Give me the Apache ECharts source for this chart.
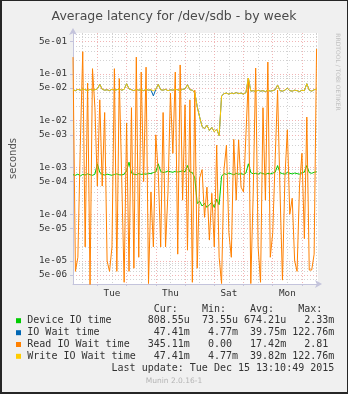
<!DOCTYPE html>
<html>
<head>
<meta charset="utf-8">
<script src="https://cdn.jsdelivr.net/npm/echarts@6/dist/echarts.min.js"></script>
<style>
  html, body { margin: 0; padding: 0; background: #F0F0F0; }
  #chart { width: 348px; height: 394px; }
</style>
</head>
<body>
<div id="chart"></div>
<script>
// Time axis is in hours after Mon Dec 7 2015 00:00.
const startHour = 4;          // first 2-hour sample
const stepHours = 2;
const endHour = 205.18;       // Tue Dec 15 13:10:49
const dayTickHours = [24, 48, 72, 96, 120, 144, 168, 192];
const halfDayTickHours = [12, 36, 60, 84, 108, 132, 156, 180, 204];
const dayLabelHours = [36, 84, 132, 180];
const dayLabels = ['Tue', 'Thu', 'Sat', 'Mon'];

// Latency axis (seconds, log scale)
const yMin = 3.22e-6;
const yMax = 0.753;
const yLabelValues = [5e-6, 1e-5, 5e-5, 1e-4, 5e-4, 1e-3, 5e-3, 1e-2, 5e-2, 1e-1, 5e-1];
const yMinorValues = [
  4e-6, 6e-6, 7e-6, 8e-6, 9e-6,
  2e-5, 3e-5, 4e-5, 6e-5, 7e-5, 8e-5, 9e-5,
  2e-4, 3e-4, 4e-4, 6e-4, 7e-4, 8e-4, 9e-4,
  2e-3, 3e-3, 4e-3, 6e-3, 7e-3, 8e-3, 9e-3,
  2e-2, 3e-2, 4e-2, 6e-2, 7e-2, 8e-2, 9e-2,
  2e-1, 3e-1, 4e-1, 6e-1, 7e-1
];

// Device IO time (s), 2-hour samples
const deviceIO = [
  0.00070, 0.00068, 0.00072, 0.00066, 0.00071, 0.00069, 0.00073, 0.00070, 0.00068, 0.00072,
  0.00120, 0.00078, 0.00071, 0.00069, 0.00072, 0.00070, 0.00068, 0.00071, 0.00073, 0.00070,
  0.00069, 0.00072, 0.00085, 0.00130, 0.00076, 0.00072, 0.00070, 0.00074, 0.00071, 0.00073,
  0.00072, 0.00075, 0.00074, 0.00078, 0.00080, 0.00120, 0.00082, 0.00078, 0.00080, 0.00084,
  0.00081, 0.00079, 0.00083, 0.00080, 0.00082, 0.00085, 0.00081, 0.00110, 0.00080, 0.00078,
  0.00060, 0.00017, 0.00019, 0.00015, 0.00017, 0.00014, 0.00016, 0.00018, 0.00014, 0.00021,
  0.00016, 0.00065, 0.00074, 0.00071, 0.00076, 0.00073, 0.00070, 0.00075, 0.00072, 0.00074,
  0.00071, 0.00076, 0.00120, 0.00078, 0.00073, 0.00075, 0.00072, 0.00077, 0.00074, 0.00071,
  0.00075, 0.00073, 0.00076, 0.00079, 0.00110, 0.00077, 0.00074, 0.00072, 0.00078, 0.00075,
  0.00073, 0.00076, 0.00074, 0.00072, 0.00077, 0.00080, 0.00110, 0.00078, 0.00075, 0.00079,
  0.00081
];

// Write IO Wait time (s)
const writeWait = [
  0.046, 0.044, 0.047, 0.045, 0.048, 0.046, 0.044, 0.047, 0.045, 0.046,
  0.048, 0.060, 0.047, 0.045, 0.046, 0.044, 0.047, 0.045, 0.046, 0.048,
  0.045, 0.047, 0.062, 0.048, 0.046, 0.044, 0.047, 0.045, 0.046, 0.044,
  0.047, 0.045, 0.046, 0.044, 0.047, 0.060, 0.046, 0.045, 0.047, 0.044,
  0.046, 0.045, 0.047, 0.046, 0.044, 0.047, 0.048, 0.059, 0.046, 0.045,
  0.040, 0.020, 0.012, 0.0075, 0.0068, 0.0080, 0.0062, 0.0072, 0.0058, 0.0066,
  0.0048, 0.034, 0.038, 0.039, 0.037, 0.039, 0.038, 0.040, 0.038, 0.039,
  0.037, 0.040, 0.082, 0.043, 0.044, 0.042, 0.045, 0.043, 0.044, 0.042,
  0.045, 0.043, 0.044, 0.046, 0.058, 0.044, 0.043, 0.045, 0.050, 0.044,
  0.043, 0.045, 0.044, 0.042, 0.045, 0.044, 0.062, 0.045, 0.043, 0.046,
  0.0474
];

// IO Wait time (s) — follows the write wait except for one short dip
const ioWait = writeWait.slice();
ioWait[33] = 0.034;

// Read IO Wait time (s)
const readWait = [
  0.23, 6e-6, 1.2e-5, 0.003, 0.30, 2e-5, 0.064, 3e-6, 0.13, 0.019,
  0.0004, 0.028, 0.0004, 0.015, 1e-5, 6e-6, 2e-5, 0.13, 6e-6, 0.08,
  0.0006, 3.5e-6, 0.009, 6e-6, 0.019, 7e-6, 0.23, 1.2e-5, 0.11, 0.0005,
  0.14, 3.3e-6, 0.0003, 2e-5, 0.005, 0.0008, 2e-5, 0.015, 2e-5, 0.0003,
  0.039, 0.002, 0.11, 1.4e-5, 0.156, 0.0002, 0.022, 1.7e-5, 0.028, 3.5e-6,
  0.045, 7e-6, 0.0006, 0.0009, 8.6e-5, 0.00038, 2.8e-5, 0.00028, 2e-5, 0.003,
  1.2e-5, 3.3e-6, 0.0009, 0.003, 4e-5, 1.2e-5, 0.004, 0.0002, 0.0039, 0.00038,
  0.0003, 0.005, 0.082, 3.3e-6, 0.0003, 0.134, 2e-5, 3.5e-6, 0.019, 0.0002,
  0.18, 1.2e-5, 4e-5, 0.0015, 0.045, 0.0003, 3.9e-6, 0.0006, 0.0064, 0.0001,
  0.00022, 1e-5, 6e-6, 0.0004, 0.002, 3e-5, 0.012, 6.4e-6, 6.4e-6, 1.4e-5,
  0.345
];

// Legend table
const legendNames = ['Device IO time', 'IO Wait time', 'Read IO Wait time', 'Write IO Wait time'];
const legendColors = ['#00CC00', '#0066B3', '#FF8000', '#FFCC00'];
const curValues = ['808.55u', '47.41m', '345.11m', '47.41m'];
const minValues = ['73.55u', '4.77m', '0.00 ', '4.77m'];
const avgValues = ['674.21u', '39.75m', '17.42m', '39.82m'];
const maxValues = ['2.33m', '122.76m', '2.81 ', '122.76m'];
const lastUpdate = 'Last update: Tue Dec 15 13:10:49 2015';

function toPairs(values) {
  return values.map((v, i) => [startHour + i * stepHours, v]);
}

function expLabel(v) {
  const e = Math.floor(Math.log10(v) + 1e-9);
  const m = Math.round(v / Math.pow(10, e));
  const sign = e < 0 ? '-' : '+';
  const ae = Math.abs(e);
  return m + 'e' + sign + (ae < 10 ? '0' + ae : String(ae));
}

function padRight(s, n) { while (s.length < n) s += ' '; return s; }
function padLeft(s, n) { while (s.length < n) s = ' ' + s; return s; }

const mono = '"DejaVu Sans Mono", monospace';
const sans = '"DejaVu Sans", sans-serif';
const textColor = '#333';

const graphics = [];
function addText(text, x, y, opts) {
  graphics.push({
    type: 'text', x: x, y: y, silent: true,
    style: Object.assign({
      text: text, font: '10px ' + mono, fill: textColor,
      align: 'left', verticalAlign: 'middle',
      textAlign: 'left', textVerticalAlign: 'middle'
    }, opts || {})
  });
}

const legendX = 27.3;
const rowY = [320.7, 332.7, 344.5, 356.3];
addText(padLeft('Cur:', 25) + padLeft('Min:', 8) + padLeft('Avg:', 8) + padLeft('Max:', 8), legendX, 309);
legendNames.forEach((name, i) => {
  const line = padRight(name, 20) + padLeft(curValues[i], 7) + padLeft(minValues[i], 8) +
               padLeft(avgValues[i], 8) + padLeft(maxValues[i], 8);
  addText(line, legendX, rowY[i]);
  graphics.push({
    type: 'rect', silent: true,
    shape: { x: 16, y: rowY[i] - 2.5, width: 5, height: 5 },
    style: { fill: legendColors[i] }
  });
});
addText(lastUpdate, 334.3, 368.7, { align: 'right', textAlign: 'right' });
addText('Munin 2.0.16-1', 174, 380.7, { font: '7.5px ' + sans, fill: '#b4b4b4', align: 'center', textAlign: 'center' });
graphics.push({
  type: 'text', x: 338, y: 72, rotation: -Math.PI / 2, silent: true,
  style: {
    text: 'RRDTOOL / TOBI OETIKER', font: '6px ' + sans, fill: '#c0c0c0',
    align: 'center', verticalAlign: 'middle', textAlign: 'center', textVerticalAlign: 'middle'
  }
});
// dark frame round the image
const frame = '#262626';
graphics.push(
  { type: 'rect', silent: true, shape: { x: 0, y: 0, width: 348, height: 1 }, style: { fill: frame } },
  { type: 'rect', silent: true, shape: { x: 0, y: 0, width: 2, height: 394 }, style: { fill: frame } },
  { type: 'rect', silent: true, shape: { x: 0, y: 392, width: 348, height: 2 }, style: { fill: frame } },
  { type: 'rect', silent: true, shape: { x: 347, y: 0, width: 1, height: 394 }, style: { fill: frame } }
);

const majorGrid = { show: true, lineStyle: { color: 'rgba(235,150,150,0.7)', type: [1, 2], width: 1 } };
const minorGrid = { show: true, lineStyle: { color: 'rgba(195,195,195,0.75)', type: [1, 2], width: 1 } };
const axisColor = '#c4c4dc';

const chart = echarts.init(document.getElementById('chart'), null, { renderer: 'canvas' });
chart.setOption({
  animation: false,
  backgroundColor: '#F0F0F0',
  title: {
    text: 'Average latency for /dev/sdb - by week',
    left: 'center', top: 5,
    textStyle: { fontFamily: sans, fontSize: 12.5, fontWeight: 'normal', color: '#4a4a4a' }
  },
  grid: { left: 67, top: 33, width: 251, height: 251, backgroundColor: '#FFFFFF', show: true, borderWidth: 0 },
  xAxis: [
    {
      type: 'value', min: startHour, max: endHour,
      axisLine: {
        show: true, lineStyle: { color: axisColor },
        symbol: ['none', 'arrow'], symbolSize: [6, 7], symbolOffset: [0, 4]
      },
      axisTick: { show: true, customValues: dayTickHours, length: 2, lineStyle: { color: axisColor } },
      axisLabel: {
        customValues: dayLabelHours,
        formatter: v => dayLabels[dayLabelHours.indexOf(Math.round(v))] || '',
        fontFamily: mono, fontSize: 9.3, color: textColor, margin: 5
      },
      splitLine: majorGrid
    },
    {
      type: 'value', min: startHour, max: endHour, position: 'top',
      axisLine: { show: false },
      axisTick: { show: false, customValues: halfDayTickHours },
      axisLabel: { show: false },
      splitLine: minorGrid
    }
  ],
  yAxis: [
    {
      type: 'log', logBase: 10, min: yMin, max: yMax,
      name: 'seconds', nameLocation: 'middle', nameRotate: 90, nameGap: 55,
      nameTextStyle: { fontFamily: sans, fontSize: 10, color: '#555' },
      axisLine: {
        show: true, lineStyle: { color: axisColor },
        symbol: ['none', 'arrow'], symbolSize: [6, 7], symbolOffset: [0, 5]
      },
      axisTick: { show: true, customValues: yLabelValues, length: 3, lineStyle: { color: axisColor } },
      axisLabel: {
        customValues: yLabelValues, formatter: expLabel,
        fontFamily: mono, fontSize: 9.3, color: textColor, margin: 6
      },
      splitLine: majorGrid
    },
    {
      type: 'log', logBase: 10, min: yMin, max: yMax,
      axisLine: { show: false },
      axisTick: { show: false, customValues: yMinorValues },
      axisLabel: { show: false },
      splitLine: minorGrid
    }
  ],
  series: [
    { name: legendNames[0], data: toPairs(deviceIO), color: legendColors[0] },
    { name: legendNames[1], data: toPairs(ioWait), color: legendColors[1] },
    { name: legendNames[2], data: toPairs(readWait), color: legendColors[2] },
    { name: legendNames[3], data: toPairs(writeWait), color: legendColors[3] }
  ].map(s => Object.assign({
    type: 'line', xAxisIndex: 0, yAxisIndex: 0, showSymbol: false, symbol: 'none',
    lineStyle: { width: 1, color: s.color }, clip: true
  }, s)),
  graphic: { elements: graphics }
});
</script>
</body>
</html>
